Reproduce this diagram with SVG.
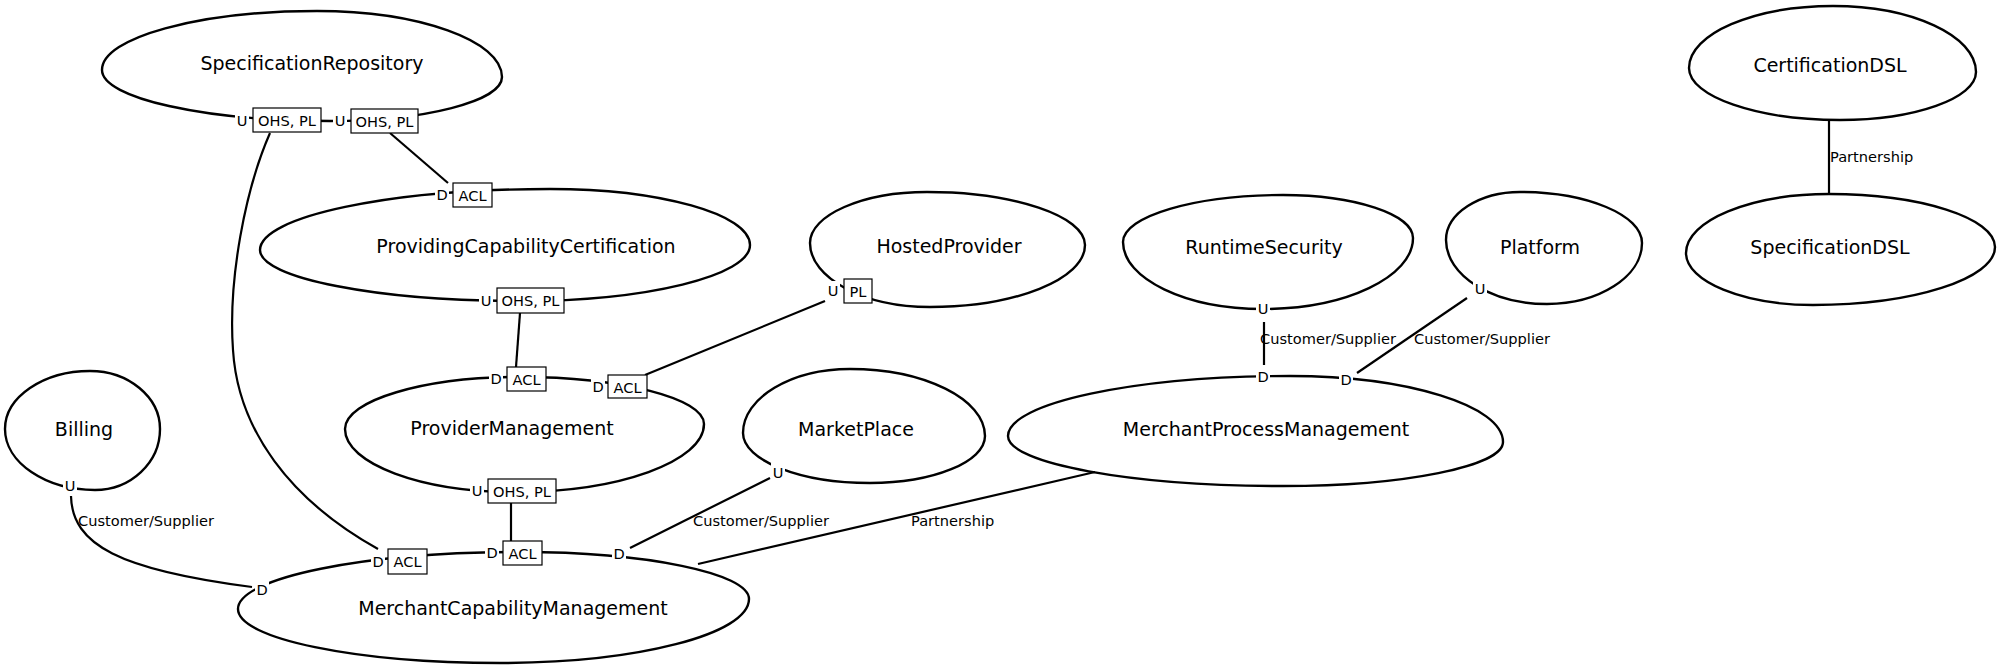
<svg xmlns="http://www.w3.org/2000/svg" width="2000" height="672" viewBox="0 0 2000 672">
<style>
.bc{fill:#fff;stroke:#000;stroke-width:2.4}
.nm{font-family:"DejaVu Sans",sans-serif;font-size:19px;fill:#000;text-anchor:middle;dominant-baseline:central}
.ln{fill:none;stroke:#000;stroke-width:2.2}
.lb{font-family:"DejaVu Sans",sans-serif;font-size:14.6px;fill:#000;dominant-baseline:central}
.ud{font-family:"DejaVu Sans",sans-serif;font-size:14.6px;fill:#000;text-anchor:middle;dominant-baseline:central}
.gap{fill:#fff;stroke:none}
.box{fill:#fff;stroke:#000;stroke-width:1.2}
.bt{font-family:"DejaVu Sans",sans-serif;font-size:14.6px;fill:#000;text-anchor:middle;dominant-baseline:central}
</style>
<rect width="2000" height="672" fill="#fff"/>
<g id="SpecificationRepository"><path class="bc" d="M102,70 C102,37.6 198.8,11 317,11 C418.8,11 502,40.7 502,77 C502,101.2 424.6,121 330,121 C204.6,121 102,98.1 102,70Z"/><text class="nm" x="312" y="63">SpecificationRepository</text></g>
<g id="ProvidingCapabilityCertification"><path class="bc" d="M260,250 C260,216.5 390.5,189 550,189 C660,189 750,214.2 750,245 C750,275.8 646.5,301 520,301 C377,301 260,278.1 260,250Z"/><text class="nm" x="526" y="246">ProvidingCapabilityCertification</text></g>
<g id="HostedProvider"><path class="bc" d="M810,243 C810,215 862.7,192 927,192 C1013.9,192 1085,215.9 1085,245 C1085,279.1 1015.3,307 930,307 C864,307 810,278.2 810,243Z"/><text class="nm" x="949" y="246">HostedProvider</text></g>
<g id="RuntimeSecurity"><path class="bc" d="M1123,242 C1123,216.2 1195,195 1283,195 C1354.5,195 1413,214.4 1413,238 C1413,277 1345.5,309 1263,309 C1186,309 1123,278.9 1123,242Z"/><text class="nm" x="1264" y="247">RuntimeSecurity</text></g>
<g id="Platform"><path class="bc" d="M1446,240 C1446,213.6 1479.3,192 1520,192 C1587.1,192 1642,215 1642,243 C1642,276.6 1599.3,304 1547,304 C1491.5,304 1446,275.2 1446,240Z"/><text class="nm" x="1540" y="247">Platform</text></g>
<g id="CertificationDSL"><path class="bc" d="M1689,68 C1689,33.9 1753.8,6 1833,6 C1911.7,6 1976,35.7 1976,72 C1976,98.4 1914.8,120 1840,120 C1757,120 1689,96.6 1689,68Z"/><text class="nm" x="1830" y="65">CertificationDSL</text></g>
<g id="SpecificationDSL"><path class="bc" d="M1686,253 C1686,220.6 1750.4,194 1829,194 C1920.3,194 1995,217.9 1995,247 C1995,278.9 1913.1,305 1813,305 C1743.2,305 1686,281.6 1686,253Z"/><text class="nm" x="1830" y="247">SpecificationDSL</text></g>
<g id="Billing"><path class="bc" d="M5,429 C5,397.1 43.25,371 90,371 C128.5,371 160,397.1 160,429 C160,462.6 130.75,490 95,490 C45.5,490 5,462.6 5,429Z"/><text class="nm" x="84" y="429">Billing</text></g>
<g id="ProviderManagement"><path class="bc" d="M345,429 C345,400.4 423.75,377 520,377 C621.2,377 704,398.2 704,424 C704,461.4 619,492 515,492 C421.5,492 345,463.7 345,429Z"/><text class="nm" x="512" y="428">ProviderManagement</text></g>
<g id="MarketPlace"><path class="bc" d="M743,433 C743,397.8 791.2,369 850,369 C924.25,369 985,399.15 985,436 C985,461.9 933.25,483 870,483 C800.2,483 743,460.5 743,433Z"/><text class="nm" x="856" y="429">MarketPlace</text></g>
<g id="MerchantProcessManagement"><path class="bc" d="M1008,436 C1008,403 1134.9,376 1290,376 C1407.15,376 1503,405.7 1503,442 C1503,466.2 1404,486 1283,486 C1131.75,486 1008,463.5 1008,436Z"/><text class="nm" x="1266" y="429">MerchantProcessManagement</text></g>
<g id="MerchantCapabilityManagement"><path class="bc" d="M238,609 C238,577.65 364.9,552 520,552 C645.95,552 749,573.15 749,599 C749,634.2 636.95,663 500,663 C355.9,663 238,638.7 238,609Z"/><text class="nm" x="513" y="608">MerchantCapabilityManagement</text></g>
<g id="connectors">
<path class="ln" d="M270,133 C245,190 228,280 233,350 C238,430 290,500 378,549"/>
<path class="ln" d="M390,133 L448,183"/>
<path class="ln" d="M520,313 L516,367"/>
<path class="ln" d="M825,301 L645,375"/>
<path class="ln" d="M511,503 L511,541"/>
<path class="ln" d="M71,496 C72,545 120,570 252,587"/>
<path class="ln" d="M770,478 L630,548"/>
<path class="ln" d="M1095,472 L698,564"/>
<path class="ln" d="M1264,322 L1264,365"/>
<path class="ln" d="M1467,298 L1357,373"/>
<path class="ln" d="M1829,120 L1829,194"/>
<text class="lb" x="78" y="520">Customer/Supplier</text>
<text class="lb" x="693" y="520">Customer/Supplier</text>
<text class="lb" x="911" y="520">Partnership</text>
<text class="lb" x="1260" y="338">Customer/Supplier</text>
<text class="lb" x="1414" y="338">Customer/Supplier</text>
<text class="lb" x="1830" y="156">Partnership</text>
<rect class="gap" x="235" y="111" width="14" height="18"/><text class="ud" x="242" y="120">U</text>
<rect class="box" x="253" y="108" width="68" height="24"/><text class="bt" x="287" y="120">OHS, PL</text>
<rect class="gap" x="333" y="111" width="14" height="18"/><text class="ud" x="340" y="120">U</text>
<rect class="box" x="351" y="109" width="67" height="24"/><text class="bt" x="384.5" y="121">OHS, PL</text>
<rect class="gap" x="435" y="185" width="14" height="18"/><text class="ud" x="442" y="194">D</text>
<rect class="box" x="453" y="183" width="39" height="24"/><text class="bt" x="472.5" y="195">ACL</text>
<rect class="gap" x="479" y="291" width="14" height="18"/><text class="ud" x="486" y="300">U</text>
<rect class="box" x="497" y="288" width="67" height="25"/><text class="bt" x="530.5" y="300">OHS, PL</text>
<rect class="gap" x="489" y="369" width="14" height="18"/><text class="ud" x="496" y="378">D</text>
<rect class="box" x="507" y="367" width="39" height="24"/><text class="bt" x="526.5" y="379">ACL</text>
<rect class="gap" x="591" y="377" width="14" height="18"/><text class="ud" x="598" y="386">D</text>
<rect class="box" x="608" y="375" width="39" height="23"/><text class="bt" x="627.5" y="387">ACL</text>
<rect class="gap" x="470" y="481" width="14" height="18"/><text class="ud" x="477" y="490">U</text>
<rect class="box" x="488" y="479" width="68" height="24"/><text class="bt" x="522" y="491">OHS, PL</text>
<rect class="gap" x="826" y="281" width="14" height="18"/><text class="ud" x="833" y="290">U</text>
<rect class="box" x="844" y="279" width="28" height="24"/><text class="bt" x="858" y="291">PL</text>
<rect class="gap" x="1256" y="299" width="14" height="18"/><text class="ud" x="1263" y="308">U</text>
<rect class="gap" x="1473" y="279" width="14" height="18"/><text class="ud" x="1480" y="288">U</text>
<rect class="gap" x="63" y="476" width="14" height="18"/><text class="ud" x="70" y="485">U</text>
<rect class="gap" x="771" y="463" width="14" height="18"/><text class="ud" x="778" y="472">U</text>
<rect class="gap" x="255" y="580" width="14" height="18"/><text class="ud" x="262" y="589">D</text>
<rect class="gap" x="371" y="552" width="14" height="18"/><text class="ud" x="378" y="561">D</text>
<rect class="box" x="388" y="549" width="39" height="25"/><text class="bt" x="407.5" y="561">ACL</text>
<rect class="gap" x="485" y="543" width="14" height="18"/><text class="ud" x="492" y="552">D</text>
<rect class="box" x="503" y="541" width="39" height="24"/><text class="bt" x="522.5" y="553">ACL</text>
<rect class="gap" x="612" y="544" width="14" height="18"/><text class="ud" x="619" y="553">D</text>
<rect class="gap" x="1256" y="367" width="14" height="18"/><text class="ud" x="1263" y="376">D</text>
<rect class="gap" x="1339" y="370" width="14" height="18"/><text class="ud" x="1346" y="379">D</text>
</g>
</svg>
